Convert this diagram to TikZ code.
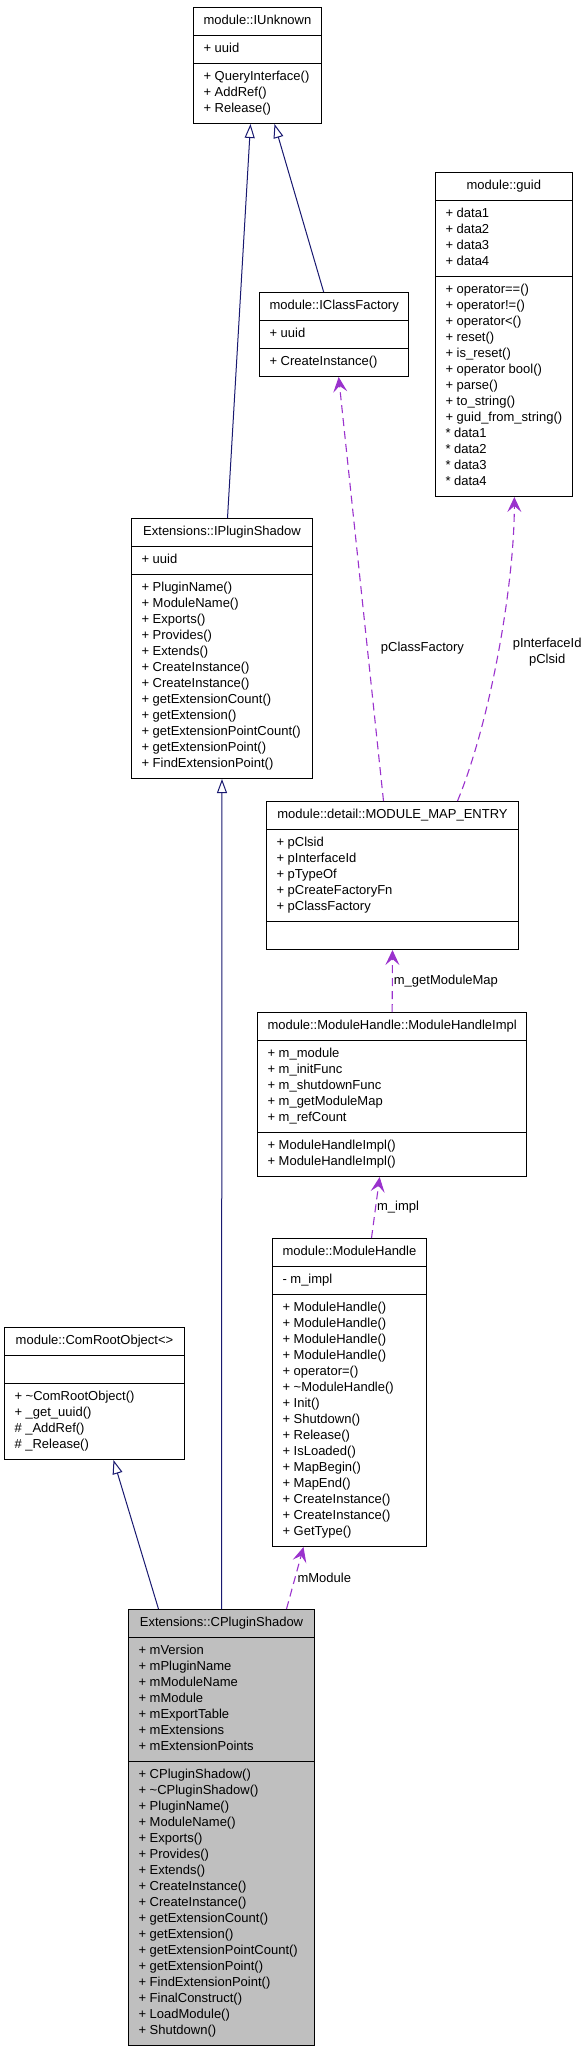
\documentclass[tikz,border=0pt]{standalone}
\usepackage{fontspec}
\setmainfont{Liberation Sans}
\usetikzlibrary{shapes.multipart,arrows.meta,positioning}
\definecolor{edgeblue}{RGB}{25,25,112}
\definecolor{edgepurple}{RGB}{154,50,205}
\newcommand{\members}[1]{\begin{tabular}{@{}l@{}}#1\end{tabular}}
\tikzset{
  classbox/.style={rectangle split, rectangle split parts=3, draw=black, line width=1pt,
    rectangle split part align={center,left,left}, inner xsep=10pt, inner ysep=5.5pt,
    anchor=north west, fill=white, font=\fontsize{13}{16}\selectfont},
  inherit/.style={draw=edgeblue, line width=1pt, -{Triangle[open,length=14pt,width=10pt]}},
  usage/.style={draw=edgepurple, line width=1.1pt, dash pattern=on 8pt off 5pt,
    -{Stealth[length=15pt,width=14pt,inset=6pt]}},
  lbl/.style={font=\fontsize{13}{16}\selectfont, inner sep=1pt, text=black}
}
\begin{document}
\begin{tikzpicture}[x=1pt,y=-1pt]
    \useasboundingbox (0,0) rectangle (584,2048);
    \node[classbox, minimum width=128pt] (iunknown) at (193,7)
        {\members{module::IUnknown}
         \nodepart{two}\members{+ uuid}
         \nodepart{three}\members{+ QueryInterface()\\+ AddRef()\\+ Release()}};
    \node[classbox, minimum width=135pt] (guid) at (435,172)
        {\members{module::guid}
         \nodepart{two}\members{+ data1\\+ data2\\+ data3\\+ data4}
         \nodepart{three}\members{+ operator==()\\+ operator!=()\\+ operator<()\\+ reset()\\
           + is\_reset()\\+ operator bool()\\+ parse()\\+ to\_string()\\+ guid\_from\_string()\\
           {*} data1\\{*} data2\\{*} data3\\{*} data4}};
    \node[classbox, minimum width=149pt] (iclassfactory) at (259,292)
        {\members{module::IClassFactory}
         \nodepart{two}\members{+ uuid}
         \nodepart{three}\members{+ CreateInstance()}};
    \node[classbox, minimum width=181pt] (ipluginshadow) at (131,518)
        {\members{Extensions::IPluginShadow}
         \nodepart{two}\members{+ uuid}
         \nodepart{three}\members{+ PluginName()\\+ ModuleName()\\+ Exports()\\+ Provides()\\
           + Extends()\\+ CreateInstance()\\+ CreateInstance()\\+ getExtensionCount()\\
           + getExtension()\\+ getExtensionPointCount()\\+ getExtensionPoint()\\
           + FindExtensionPoint()}};
    \node[classbox, minimum width=252pt] (modulemapentry) at (266,801)
        {\members{module::detail::MODULE\_MAP\_ENTRY}
         \nodepart{two}\members{+ pClsid\\+ pInterfaceId\\+ pTypeOf\\+ pCreateFactoryFn\\
           + pClassFactory}
         \nodepart{three}\strut};
    \node[classbox, minimum width=269pt] (modulehandleimpl) at (257,1012)
        {\members{module::ModuleHandle::ModuleHandleImpl}
         \nodepart{two}\members{+ m\_module\\+ m\_initFunc\\+ m\_shutdownFunc\\
           + m\_getModuleMap\\+ m\_refCount}
         \nodepart{three}\members{+ ModuleHandleImpl()\\+ ModuleHandleImpl()}};
    \node[classbox, minimum width=154pt] (modulehandle) at (272,1238)
        {\members{module::ModuleHandle}
         \nodepart{two}\members{- m\_impl}
         \nodepart{three}\members{+ ModuleHandle()\\+ ModuleHandle()\\+ ModuleHandle()\\
           + ModuleHandle()\\+ operator=()\\+ \textasciitilde ModuleHandle()\\+ Init()\\
           + Shutdown()\\+ Release()\\+ IsLoaded()\\+ MapBegin()\\+ MapEnd()\\
           + CreateInstance()\\+ CreateInstance()\\+ GetType()}};
    \node[classbox, minimum width=180pt] (comrootobject) at (4,1327)
        {\members{module::ComRootObject<>}
         \nodepart{two}\strut
         \nodepart{three}\members{+ \textasciitilde ComRootObject()\\+ \_get\_uuid()\\
           \# \_AddRef()\\\# \_Release()}};
    \node[classbox, minimum width=186pt, fill=gray!50] (cpluginshadow) at (128,1609)
        {\members{Extensions::CPluginShadow}
         \nodepart{two}\members{+ mVersion\\+ mPluginName\\+ mModuleName\\+ mModule\\
           + mExportTable\\+ mExtensions\\+ mExtensionPoints}
         \nodepart{three}\members{+ CPluginShadow()\\+ \textasciitilde CPluginShadow()\\
           + PluginName()\\+ ModuleName()\\+ Exports()\\+ Provides()\\+ Extends()\\
           + CreateInstance()\\+ CreateInstance()\\+ getExtensionCount()\\+ getExtension()\\
           + getExtensionPointCount()\\+ getExtensionPoint()\\+ FindExtensionPoint()\\
           + FinalConstruct()\\+ LoadModule()\\+ Shutdown()}};

    \draw[inherit] ([xshift=5.5pt]ipluginshadow.north) -- ([xshift=-7pt]iunknown.south);
    \draw[inherit] ([xshift=-10.5pt]iclassfactory.north) -- ([xshift=17pt]iunknown.south);
    \draw[inherit] (cpluginshadow.north) -- (ipluginshadow.south);
    \draw[inherit] ([xshift=-63pt]cpluginshadow.north) -- ([xshift=19pt]comrootobject.south);

    \draw[usage] ([xshift=-9pt]modulemapentry.north) -- ([xshift=4.5pt]iclassfactory.south)
        node[lbl, pos=0.36, right=12pt] {pClassFactory};
    \draw[usage] ([xshift=65pt]modulemapentry.north) .. controls +(33,-80) and +(0,88)
        .. ([xshift=10.5pt]guid.south)
        node[lbl, align=center, pos=0.5, right=13pt] {pInterfaceId\\pClsid};
    \draw[usage] (modulehandleimpl.north) -- (modulemapentry.south)
        node[lbl, pos=0.5, anchor=west] {m\_getModuleMap};
    \draw[usage] ([xshift=22pt]modulehandle.north) -- ([xshift=-12.5pt]modulehandleimpl.south)
        node[lbl, pos=0.5, anchor=west] {m\_impl};
    \draw[usage] ([xshift=65pt]cpluginshadow.north) -- ([xshift=-46pt]modulehandle.south)
        node[lbl, pos=0.5, anchor=west, xshift=1pt] {mModule};
\end{tikzpicture}
\end{document}
